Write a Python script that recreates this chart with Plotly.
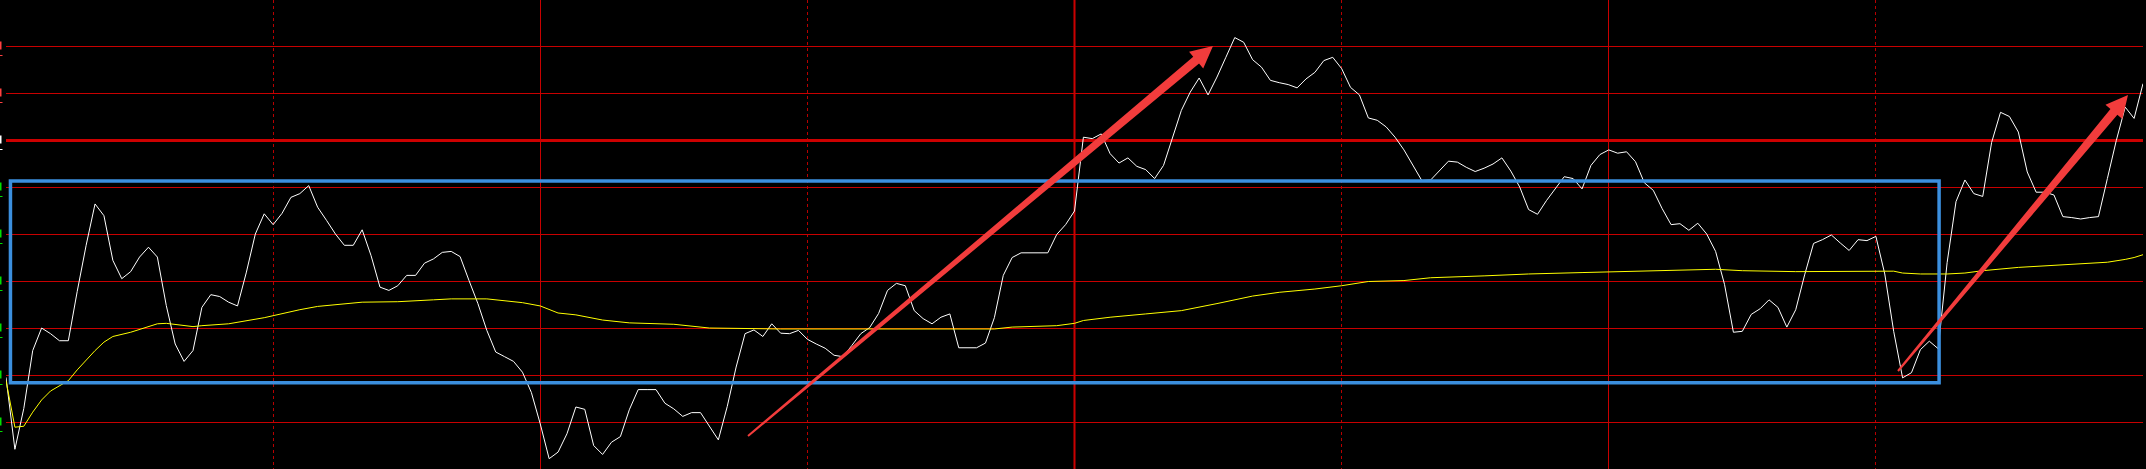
import math
import plotly.graph_objects as go

# ---- data (percent change vs previous close) ----
minutes = list(range(241))
price_pct = [
    -5.04, -6.57, -5.70, -4.47, -3.99, -4.11, -4.26, -4.26, -3.21, -2.23,
    -1.35, -1.60, -2.55, -2.94, -2.79, -2.48, -2.27, -2.48, -3.51, -4.33,
    -4.70, -4.47, -3.55, -3.28, -3.32, -3.44, -3.52, -2.80, -1.99, -1.56,
    -1.79, -1.55, -1.21, -1.13, -0.96, -1.42, -1.70, -1.99, -2.23, -2.23,
    -1.90, -2.45, -3.12, -3.19, -3.09, -2.87, -2.87, -2.61, -2.52, -2.38,
    -2.36, -2.47, -2.98, -3.47, -4.04, -4.50, -4.60, -4.70, -4.93, -5.36,
    -6.03, -6.77, -6.63, -6.24, -5.67, -5.72, -6.49, -6.68, -6.42, -6.30,
    -5.73, -5.30, -5.30, -5.30, -5.59, -5.71, -5.87, -5.79, -5.79, -6.09,
    -6.37, -5.66, -4.82, -4.11, -4.03, -4.17, -3.90, -4.10, -4.11, -4.04,
    -4.23, -4.33, -4.42, -4.57, -4.60, -4.36, -4.11, -3.98, -3.68, -3.19,
    -3.04, -3.09, -3.62, -3.79, -3.90, -3.76, -3.69, -4.41, -4.41, -4.41,
    -4.31, -3.77, -2.87, -2.49, -2.39, -2.39, -2.39, -2.39, -2.00, -1.79,
    -1.50, 0.07, 0.04, 0.14, -0.28, -0.48, -0.37, -0.55, -0.62, -0.81,
    -0.53, 0.07, 0.64, 1.03, 1.33, 0.97, 1.35, 1.77, 2.19, 2.09,
    1.72, 1.56, 1.28, 1.23, 1.19, 1.12, 1.31, 1.45, 1.70, 1.77,
    1.53, 1.13, 0.97, 0.48, 0.43, 0.29, 0.07, -0.20, -0.53, -0.85,
    -0.84, -0.64, -0.44, -0.46, -0.57, -0.66, -0.59, -0.50, -0.37, -0.65,
    -0.99, -1.47, -1.57, -1.28, -1.03, -0.77, -0.81, -1.03, -0.53, -0.30,
    -0.20, -0.27, -0.24, -0.45, -0.90, -1.06, -1.45, -1.79, -1.77, -1.91,
    -1.76, -1.99, -2.36, -3.06, -4.08, -4.06, -3.70, -3.58, -3.39, -3.55,
    -3.97, -3.60, -2.86, -2.19, -2.11, -2.01, -2.18, -2.34, -2.11, -2.13,
    -2.04, -2.84, -4.06, -5.05, -4.94, -4.45, -4.27, -4.43, -2.60, -1.30,
    -0.84, -1.13, -1.19, -0.04, 0.60, 0.51, 0.18, -0.67, -1.10, -1.10,
    -1.16, -1.62, -1.64, -1.67, -1.64, -1.62, -0.81, 0.00, 0.71, 0.47,
    1.21,
]

avg_minutes = [0, 1, 2, 3, 4, 5, 7, 8, 10, 11, 12, 14, 17, 18, 21, 22, 25, 29, 33, 35,
               40, 44, 48, 50, 54, 58, 60, 62, 64, 67, 70, 75, 79, 87, 111, 113, 118, 120,
               121, 124, 128, 132, 136, 140, 143, 147, 150, 153, 157, 160, 166, 171, 177,
               185, 192, 195, 201, 212, 213, 215, 218, 220, 222, 226, 230, 234, 236, 238,
               239, 240]
avg_pct = [-5.11, -6.10, -6.08, -5.78, -5.52, -5.33, -5.11, -4.88, -4.47, -4.29, -4.17,
           -4.08, -3.90, -3.89, -3.96, -3.94, -3.90, -3.77, -3.60, -3.53, -3.44, -3.43,
           -3.39, -3.37, -3.37, -3.45, -3.52, -3.67, -3.71, -3.82, -3.88, -3.91, -3.99,
           -4.01, -4.01, -3.97, -3.94, -3.89, -3.83, -3.76, -3.69, -3.62, -3.47, -3.31,
           -3.23, -3.16, -3.09, -3.00, -2.98, -2.92, -2.88, -2.84, -2.81, -2.77, -2.74,
           -2.77, -2.79, -2.78, -2.82, -2.84, -2.84, -2.82, -2.77, -2.70, -2.66, -2.62,
           -2.59, -2.53, -2.49, -2.43]

grid_levels = [2, 1, 0, -1, -2, -3, -4, -5, -6]
solid_vlines = [0, 60, 120, 180, 240]
dotted_vlines = [30, 90, 150, 210]

# ---- layout constants ----
W, H = 2146, 469
ML, MR = 6, 3
PW = W - ML - MR
Y_MAX = 140.5 / 47
Y_MIN = Y_MAX - H / 47
GRID = "#c80000"

fig = go.Figure()
fig.add_trace(go.Scatter(x=minutes, y=price_pct, mode="lines",
                         line=dict(color="#ffffff", width=1), hoverinfo="skip"))
fig.add_trace(go.Scatter(x=avg_minutes, y=avg_pct, mode="lines",
                         line=dict(color="#ffff00", width=1), hoverinfo="skip"))

shapes = []
# thicker mid-session line
shapes.append(dict(type="line", xref="x", yref="paper", x0=120, x1=120, y0=0, y1=1,
                   line=dict(color="#d00000", width=2), layer="below"))

# blue box annotation
shapes.append(dict(type="rect", xref="x", yref="y", x0=0.5, x1=217.1, y0=-5.155, y1=-0.862,
                   line=dict(color="#3b8fde", width=3.5), fillcolor="rgba(0,0,0,0)", layer="above"))


def px_x(p):
    return (p - ML) / PW


def px_y(p):
    return 1 - p / H


# tapered red arrows (built in pixel space, converted to paper coords)
def arrow_path(tail, tip, w0=2.0, w1=9.0, hw=11.0, hl=22.0):
    dx, dy = tip[0] - tail[0], tip[1] - tail[1]
    L = math.hypot(dx, dy)
    ux, uy = dx / L, dy / L
    nx, ny = -uy, ux
    bx, by = tip[0] - ux * hl, tip[1] - uy * hl
    pts = [
        (tail[0] + nx * w0 / 2, tail[1] + ny * w0 / 2),
        (bx + nx * w1 / 2, by + ny * w1 / 2),
        (bx + nx * hw, by + ny * hw),
        tip,
        (bx - nx * hw, by - ny * hw),
        (bx - nx * w1 / 2, by - ny * w1 / 2),
        (tail[0] - nx * w0 / 2, tail[1] - ny * w0 / 2),
    ]
    return "M " + " L ".join(f"{px_x(x):.5f},{px_y(y):.5f}" for x, y in pts) + " Z"


for tail, tip in [((748, 436), (1213, 46)), ((1898, 371), (2128, 95))]:
    shapes.append(dict(type="path", xref="paper", yref="paper", path=arrow_path(tail, tip),
                       fillcolor="#f23c3c", line=dict(width=0), layer="above"))

# small coloured fragments left of the axis (the clipped ends of the price scale)
for lv in grid_levels:
    col = "#ff4040" if lv > 0 else ("#ffffff" if lv == 0 else "#00e000")
    gy = (Y_MAX - lv) * 47
    shapes.append(dict(type="rect", xref="paper", yref="paper",
                       x0=px_x(0), x1=px_x(1.5), y0=px_y(gy - 5), y1=px_y(gy + 3),
                       fillcolor=col, line=dict(width=0), layer="above"))
    shapes.append(dict(type="rect", xref="paper", yref="paper",
                       x0=px_x(0), x1=px_x(2.5), y0=px_y(gy + 8.5), y1=px_y(gy + 9.5),
                       fillcolor=col, line=dict(width=0), layer="above"))

fig.update_layout(
    width=W, height=H,
    margin=dict(l=ML, r=MR, t=0, b=0, pad=0),
    paper_bgcolor="#000000", plot_bgcolor="#000000",
    showlegend=False,
    xaxis=dict(range=[0, 240], tickvals=solid_vlines, showgrid=True, gridcolor=GRID,
               gridwidth=1, zeroline=False, showticklabels=False, ticks="", showline=False,
               minor=dict(tickvals=dotted_vlines, showgrid=True, gridcolor="#b80000",
                          griddash="dot", gridwidth=1, ticks="")),
    yaxis=dict(range=[Y_MIN, Y_MAX], tickvals=grid_levels, showgrid=True, gridcolor=GRID,
               gridwidth=1, zeroline=True, zerolinecolor="#cc0000", zerolinewidth=3,
               showticklabels=False, ticks="", showline=False),
    shapes=shapes,
)

fig.write_html(
    "out.html",
    config={"displayModeBar": False},
    post_script="document.body.style.margin='0';document.body.style.overflow='hidden';"
                "document.body.style.background='#000';",
)
